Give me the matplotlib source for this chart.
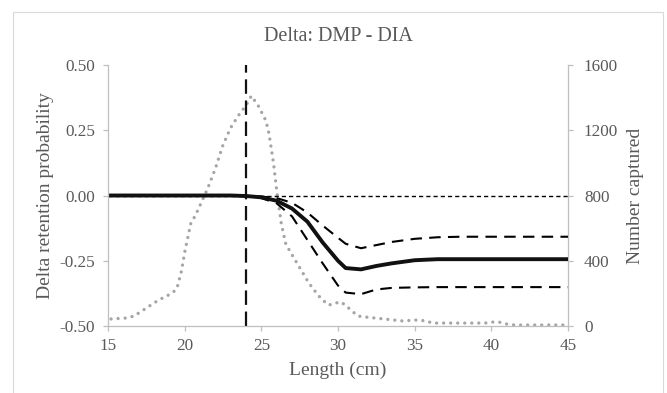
import matplotlib
matplotlib.use("Agg")
import matplotlib.pyplot as plt
from matplotlib.patches import Rectangle
from matplotlib.ticker import FuncFormatter, FixedLocator

plt.rcParams['font.family'] = ['Liberation Serif', 'DejaVu Serif']
plt.rcParams['axes.unicode_minus'] = False

# ---- data ----
title = "Delta: DMP - DIA"
ret_len = [15, 20, 23, 24, 25, 26, 27, 28, 29, 30, 30.5, 31.5, 32.5, 33.5, 35, 36.5, 38, 45]
delta_mean = [0, 0, 0, -0.002, -0.007, -0.02, -0.05, -0.10, -0.18, -0.25, -0.278, -0.283,
              -0.27, -0.26, -0.248, -0.244, -0.244, -0.244]
delta_upper = [0, 0, 0, -0.001, -0.004, -0.010, -0.028, -0.065, -0.115, -0.162, -0.185, -0.202,
               -0.19, -0.178, -0.166, -0.160, -0.158, -0.158]
delta_lower = [0, 0, 0, -0.003, -0.010, -0.030, -0.08, -0.17, -0.26, -0.345, -0.372, -0.378,
               -0.36, -0.354, -0.352, -0.351, -0.351, -0.351]
count_len = [15.2, 16.2, 16.7, 17.5, 18.3, 19.2, 19.5, 19.8, 20.0, 20.4, 20.7, 21.0, 21.5, 22.0,
             22.5, 23.0, 23.5, 24.0, 24.35, 24.8, 25.3, 25.5, 25.8, 26.0, 26.3, 26.6, 27.1, 27.6,
             28.1, 28.7, 29.0, 29.4, 29.8, 30.2, 30.55, 31.0, 31.3, 31.8, 34.2, 35.2, 35.7, 36.2,
             39.6, 40.0, 40.5, 41.0, 41.5, 44.9]
counts = [43, 49, 61, 110, 159, 202, 232, 340, 452, 629, 678, 739, 843, 965,
          1110, 1215, 1290, 1352, 1411, 1350, 1258, 1179, 995, 831, 629, 501, 421, 342,
          263, 189, 159, 128, 140, 147, 122, 85, 61, 55, 31, 37, 31, 18,
          18, 24, 24, 12, 6, 6]
ref_length = 24
x_ticks = [15, 20, 25, 30, 35, 40, 45]
y_ticks = [-0.5, -0.25, 0.0, 0.25, 0.5]
y2_ticks = [0, 400, 800, 1200, 1600]

TXT = '#595959'
SPINE = '#BFBFBF'

fig = plt.figure(figsize=(6.67, 3.93), dpi=100)
fig.patch.set_facecolor('white')
fig.patches.append(Rectangle((13/667, -0.05), 650/667, 1 - 12/393 + 0.05,
                             transform=fig.transFigure, fill=False,
                             edgecolor='#D9D9D9', lw=0.8, clip_on=False))

ax = fig.add_axes([108/667, 67/393, 460/667, 261/393])
ax2 = ax.twinx()
ax.set_zorder(ax2.get_zorder() + 1)
ax.patch.set_visible(False)

# secondary: number captured (gray dotted)
ax2.plot(count_len, counts, color='#A6A6A6', lw=2.4, linestyle=(0, (0.01, 2.1)),
         dash_capstyle='round', solid_capstyle='round')

# primary
ax.plot([15, 45], [0, 0], color='black', lw=1.0, linestyle=(0, (3, 2.2)))
ax.plot(ret_len, delta_upper, color='black', lw=1.5, linestyle=(0, (5.5, 3.5)))
ax.plot(ret_len, delta_lower, color='black', lw=1.5, linestyle=(0, (5.5, 3.5)))
ax.plot(ret_len, delta_mean, color='#111111', lw=2.8, solid_joinstyle='round')
ax.axvline(ref_length, color='#111111', lw=1.6, linestyle=(0, (6.5, 3.0)))

ax.set_xlim(15, 45)
ax.set_ylim(-0.5, 0.5)
ax2.set_ylim(0, 1600)
ax.xaxis.set_major_locator(FixedLocator(x_ticks))
ax.yaxis.set_major_locator(FixedLocator(y_ticks))
ax2.yaxis.set_major_locator(FixedLocator(y2_ticks))
ax.yaxis.set_major_formatter(FuncFormatter(lambda v, p: f"{v:.2f}"))
ax2.yaxis.set_major_formatter(FuncFormatter(lambda v, p: f"{int(v)}"))

for a in (ax, ax2):
    for s in a.spines.values():
        s.set_color(SPINE)
        s.set_linewidth(0.9)
    a.spines['top'].set_visible(False)
    a.tick_params(colors=SPINE, labelcolor=TXT, labelsize=12.3, length=3.5, width=0.9,
                  direction='out')
ax.spines['right'].set_visible(False)
ax2.spines['left'].set_visible(False)
ax2.spines['bottom'].set_visible(False)
ax.tick_params(axis='y', pad=6)
ax.tick_params(axis='x', pad=5)
ax2.tick_params(axis='y', pad=8)

ax.set_xlabel("Length (cm)", fontsize=14, color=TXT, labelpad=6)
ax.set_ylabel("Delta retention probability", fontsize=14, color=TXT, labelpad=4)
ax2.set_ylabel("Number captured", fontsize=14, color=TXT, labelpad=6)
ax.set_title(title, fontsize=14.5, color=TXT, pad=17)

fig.savefig("out.png", dpi=100)
